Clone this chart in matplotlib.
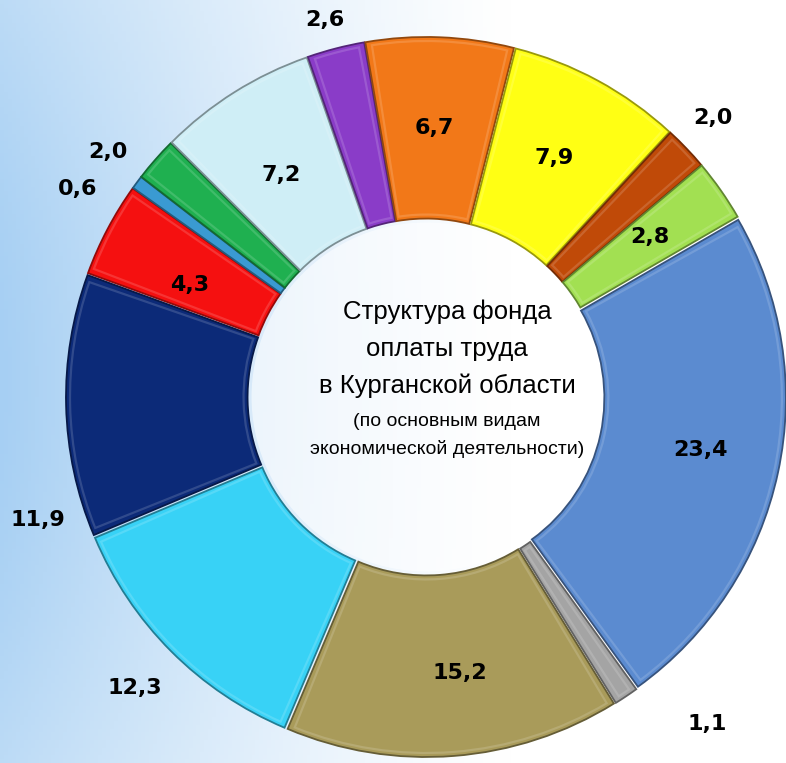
import numpy as np
import matplotlib
matplotlib.use("Agg")
import matplotlib.pyplot as plt
from matplotlib.colors import to_rgb
from matplotlib.patches import Wedge, Circle

# доли фонда оплаты труда, %, по часовой стрелке
values = [23.4, 1.1, 15.2, 12.3, 11.9, 4.3, 0.6, 2.0, 7.2, 2.6, 6.7, 7.9, 2.0, 2.8]
labels = ["23,4", "1,1", "15,2", "12,3", "11,9", "4,3", "0,6", "2,0",
          "7,2", "2,6", "6,7", "7,9", "2,0", "2,8"]
colors = ["#5b8bd0", "#a4a4a4", "#a99b5a", "#38d2f6", "#0c2a78", "#f51010",
          "#3a9ad2", "#1fb050", "#cfeef6", "#8a3cc8", "#f27818", "#ffff14",
          "#c04a08", "#a2e052"]
# положение подписей: доля радиуса и сдвиг по углу (град., по часовой)
lab_r = [0.785, 1.21, 0.78, 1.157, 1.143, 0.734, 1.139, 1.127,
         0.745, 1.096, 0.756, 0.761, 1.124, 0.773]
lab_shift = [-1.2, -6.9, -2.6, 0, -16.2, -2.4, -5.7, -3.7,
             -0.9, -0.5, -0.5, -0.3, -0.5, -0.5]

title = ["Структура фонда", "оплаты труда", "в Курганской области"]
subtitle = ["(по основным видам", "экономической деятельности)"]

W, H = 786, 763
cx, cy, R = 426, H - 397, 356

fig = plt.figure(figsize=(W / 100, H / 100), dpi=100)

# фон: голубой градиент слева
bg = fig.add_axes([0, 0, 1, 1]); bg.axis("off")
xx, yy = np.meshgrid(np.linspace(0, 1, 200), np.linspace(0, 1, 200))
f = np.clip(1 - xx / 0.65, 0, 1) ** 1.2 * (0.75 + 0.25 * np.sin(np.pi * yy))
blue = np.array(to_rgb("#a6cff3"))
img = 1 - f[..., None] * (1 - blue)
bg.imshow(img, extent=[0, 1, 0, 1], aspect="auto")
bg.set_xlim(0, 1); bg.set_ylim(0, 1)

ax = fig.add_axes([0, 0, 1, 1])
ax.add_patch(Circle((cx, cy), R * 0.49, fc="white", ec="none", alpha=0.55))
wedges, _ = ax.pie(values, colors=colors, radius=R, center=(cx, cy),
                   startangle=30, counterclock=False, explode=[4] * len(values),
                   wedgeprops=dict(width=R * 0.51, linewidth=1.3))
for w, col in zip(wedges, colors):
    c = np.array(to_rgb(col))
    w.set_edgecolor(c * 0.6)
    # фаска: мягкая светлая линия внутри сегмента
    rm = w.r - w.width / 2
    da = np.rad2deg(4.5 / rm)
    if w.theta2 - w.theta1 > 2 * da + 0.5:
        ax.add_patch(Wedge(w.center, w.r - 4, w.theta1 + da, w.theta2 - da,
                           width=w.width - 8, fill=False,
                           ec=c + (1 - c) * 0.3, lw=1.6, alpha=0.5))
ax.set_xlim(0, W); ax.set_ylim(0, H)
ax.set_aspect("equal")
ax.axis("off")

for w, lab, r, sh in zip(wedges, labels, lab_r, lab_shift):
    th = np.deg2rad((w.theta1 + w.theta2) / 2 - sh)
    ax.text(cx + r * R * np.cos(th), cy + r * R * np.sin(th), lab,
            ha="center", va="center", fontsize=16, weight="bold", color="black")

fam = ["Liberation Sans", "DejaVu Sans"]
for i, t in enumerate(title):
    ax.text(447, H - 312 - i * 37, t, ha="center", va="center", fontsize=18.5, family=fam)
for i, t in enumerate(subtitle):
    ax.text(447, H - 421 - i * 28.5, t, ha="center", va="center", fontsize=14, family=fam)

fig.savefig("out.png", dpi=100)
